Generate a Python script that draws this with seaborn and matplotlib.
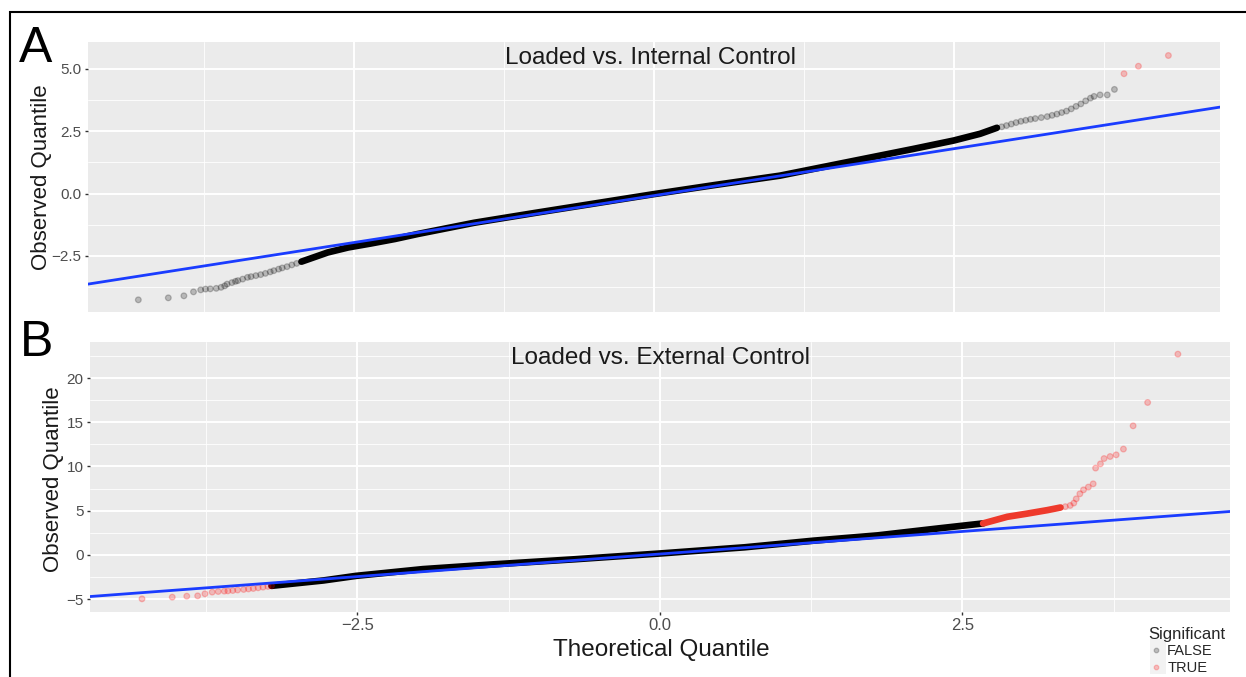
import matplotlib
matplotlib.use('Agg')
import matplotlib.pyplot as plt
from matplotlib.patches import Rectangle
import pandas as pd
import seaborn as sns

# ---- Panel A: Loaded vs. Internal Control ----
# dense (over-plotted) part of the QQ cloud
a_body_x = [-2.94, -2.72, -2.55, -2.36, -2.16, -1.97, -1.5, -1.0, -0.5, 0.0,
            0.5, 1.05, 1.61, 2.16, 2.50, 2.72, 2.86]
a_body_y = [-2.73, -2.36, -2.16, -2.00, -1.82, -1.62, -1.17, -0.78, -0.40, -0.02,
            0.34, 0.72, 1.26, 1.79, 2.13, 2.40, 2.64]
# sparse tail points
a_false_x = [-4.30, -4.05, -3.92, -3.84, -3.78, -3.74, -3.70, -3.65, -3.61, -3.58,
             -3.56, -3.52, -3.49, -3.47, -3.43, -3.39, -3.36, -3.32, -3.28, -3.24,
             -3.20, -3.17, -3.13, -3.10, -3.06, -3.02, -2.98,
             2.90, 2.94, 2.98, 3.02, 3.06, 3.10, 3.14, 3.18, 3.23, 3.28, 3.32,
             3.36, 3.40, 3.44, 3.48, 3.52, 3.56, 3.60, 3.64, 3.67, 3.72, 3.78, 3.84]
a_false_y = [-4.26, -4.18, -4.10, -3.94, -3.86, -3.83, -3.82, -3.80, -3.76, -3.70,
             -3.63, -3.57, -3.52, -3.49, -3.43, -3.36, -3.33, -3.29, -3.25, -3.20,
             -3.14, -3.09, -3.03, -2.98, -2.93, -2.86, -2.80,
             2.68, 2.73, 2.79, 2.85, 2.90, 2.94, 2.98, 3.01, 3.05, 3.09, 3.14,
             3.19, 3.25, 3.31, 3.40, 3.50, 3.60, 3.72, 3.83, 3.90, 3.96, 3.96, 4.18]
a_true_x = [3.92, 4.04, 4.29]
a_true_y = [4.81, 5.11, 5.54]
a_ref_x = [-4.72, 4.72]
a_ref_y = [-3.63, 3.47]

# ---- Panel B: Loaded vs. External Control ----
b_body_x = [-3.21, -2.78, -2.51, -1.96, -1.40, -0.7, 0.0, 0.7, 1.27, 1.8, 2.31, 2.67]
b_body_y = [-3.51, -2.90, -2.38, -1.62, -1.10, -0.50, 0.15, 0.85, 1.60, 2.20, 3.00, 3.55]
b_redbody_x = [2.67, 2.87, 3.03, 3.20, 3.31]
b_redbody_y = [3.55, 4.30, 4.65, 5.05, 5.35]
b_true_x = [-4.28, -4.03, -3.91, -3.82, -3.76, -3.70, -3.65, -3.60, -3.57, -3.53,
            -3.49, -3.44, -3.40, -3.36, -3.32, -3.28, -3.24, -3.21,
            3.35, 3.39, 3.42, 3.44, 3.47, 3.50, 3.54, 3.58, 3.60, 3.64, 3.67,
            3.72, 3.77, 3.83, 3.91, 4.03, 4.28]
b_true_y = [-4.98, -4.79, -4.68, -4.64, -4.41, -4.22, -4.15, -4.11, -4.08, -4.04,
            -3.98, -3.92, -3.86, -3.81, -3.73, -3.66, -3.58, -3.51,
            5.45, 5.58, 5.85, 6.33, 6.90, 7.35, 7.66, 8.03, 9.81, 10.29, 10.89,
            11.12, 11.31, 11.96, 14.59, 17.23, 22.70]
b_false_x = []
b_false_y = []
b_ref_x = [-4.71, 4.71]
b_ref_y = [-4.72, 4.90]

a_yticks = [-2.5, 0.0, 2.5, 5.0]
b_yticks = [-5, 0, 5, 10, 15, 20]
x_ticks = [-2.5, 0.0, 2.5]
x_labels = ['\u22122.5', '0.0', '2.5']

palette = {'FALSE': 'black', 'TRUE': 'red'}

sns.set_theme(style='darkgrid', rc={'axes.facecolor': '#EBEBEB', 'grid.color': 'white'})
plt.rcParams['font.family'] = ['Liberation Sans', 'DejaVu Sans']

fig = plt.figure(figsize=(12.46, 6.77), dpi=100)
ax_a = fig.add_axes([0.0706, 0.5391, 0.9085, 0.3988])
ax_b = fig.add_axes([0.0722, 0.0960, 0.9149, 0.3988])


def points_frame(fx, fy, tx, ty):
    df_f = pd.DataFrame({'x': fx, 'y': fy, 'Significant': 'FALSE'})
    df_t = pd.DataFrame({'x': tx, 'y': ty, 'Significant': 'TRUE'})
    return pd.concat([df_f, df_t], ignore_index=True)


def draw_panel(ax, body_x, body_y, pts, ref_x, ref_y, xlim, ylim, yticks, ylabels, minor_y):
    ax.set_xlim(xlim)
    ax.set_ylim(ylim)
    sns.lineplot(x=body_x, y=body_y, ax=ax, color='black', linewidth=4.8,
                 sort=False, estimator=None, solid_capstyle='round', zorder=3)
    sns.scatterplot(data=pts, x='x', y='y', hue='Significant', palette=palette,
                    hue_order=['FALSE', 'TRUE'], ax=ax, s=17, alpha=0.22,
                    linewidth=0.9, edgecolor='face', zorder=3)
    sns.lineplot(x=ref_x, y=ref_y, ax=ax, color='#1a3cff', linewidth=2.0, zorder=4)
    ax.set_yticks(yticks)
    ax.set_yticklabels(ylabels)
    ax.set_yticks(minor_y, minor=True)
    ax.set_xticks(x_ticks)
    ax.set_xticks([-3.75, -1.25, 1.25, 3.75], minor=True)
    ax.grid(which='major', color='white', linewidth=1.4)
    ax.grid(which='minor', color='white', linewidth=0.6)
    ax.tick_params(axis='y', which='major', left=True, length=2.5, width=1.0,
                   color='#333333', labelsize=11, labelcolor='#4D4D4D', pad=2)
    ax.tick_params(which='minor', length=0)
    for s in ax.spines.values():
        s.set_visible(False)
    ax.set_xlabel('')
    ax.set_ylabel('')


pts_a = points_frame(a_false_x, a_false_y, a_true_x, a_true_y)
draw_panel(ax_a, a_body_x, a_body_y, pts_a, a_ref_x, a_ref_y,
           (-4.72, 4.72), (-4.75, 6.08), a_yticks, ['\u22122.5', '0.0', '2.5', '5.0'],
           [-3.75, -1.25, 1.25, 3.75])
ax_a.tick_params(axis='x', bottom=False, labelbottom=False)
ax_a.get_legend().remove()

pts_b = points_frame(b_false_x, b_false_y, b_true_x, b_true_y)
draw_panel(ax_b, b_body_x, b_body_y, pts_b, b_ref_x, b_ref_y,
           (-4.71, 4.71), (-6.47, 24.07), b_yticks, ['\u22125', '0', '5', '10', '15', '20'],
           [-2.5, 2.5, 7.5, 12.5, 17.5, 22.5])
sns.lineplot(x=b_redbody_x, y=b_redbody_y, ax=ax_b, color='#EE3A2C', linewidth=4.8,
             sort=False, estimator=None, solid_capstyle='round', zorder=3)
ax_b.set_xticklabels(x_labels)
ax_b.tick_params(axis='x', which='major', bottom=True, length=2.5, width=1.0,
                 color='#333333', labelsize=12, labelcolor='#4D4D4D', pad=2)
handles, labels = ax_b.get_legend_handles_labels()
ax_b.get_legend().remove()

# titles, panel letters and axis labels
fig.text(0.5217, 0.9055, 'Loaded vs. Internal Control', ha='center', va='baseline',
         fontsize=17.5, color='#1a1a1a')
fig.text(0.5297, 0.4623, 'Loaded vs. External Control', ha='center', va='baseline',
         fontsize=17.5, color='#1a1a1a')
fig.text(0.0289, 0.9084, 'A', ha='center', va='baseline', fontsize=36, color='black')
fig.text(0.0297, 0.4735, 'B', ha='center', va='baseline', fontsize=36, color='black')
fig.text(0.0337, 0.7386, 'Observed Quantile', ha='center', va='center', rotation=90,
         fontsize=16, color='#1a1a1a')
fig.text(0.0433, 0.2925, 'Observed Quantile', ha='center', va='center', rotation=90,
         fontsize=16, color='#1a1a1a')
fig.text(0.531, 0.031, 'Theoretical Quantile', ha='center', va='baseline',
         fontsize=17.5, color='#1a1a1a')

# legend
fig.patches.append(Rectangle((1150 / 1246, 1 - 674 / 677), 16 / 1246, 35 / 677,
                             transform=fig.transFigure, facecolor='#F2F2F2',
                             edgecolor='none', zorder=0))
leg = fig.legend(handles, labels, title='Significant', loc='upper left',
                 bbox_to_anchor=(1141 / 1246, 1 - 620 / 677), frameon=False,
                 fontsize=10.5, title_fontsize=12, handletextpad=0.3,
                 labelspacing=0.15, borderpad=0.0, handlelength=1.0, markerscale=0.8)
leg._legend_box.align = 'left'

# outer frame (left and top edges visible)
fig.patches.append(Rectangle((10 / 1246, -0.05), 1.2, 1 - 12 / 677 + 0.05,
                             transform=fig.transFigure, fill=False,
                             edgecolor='black', linewidth=1.5, zorder=5))

fig.savefig('out.png', dpi=100)
